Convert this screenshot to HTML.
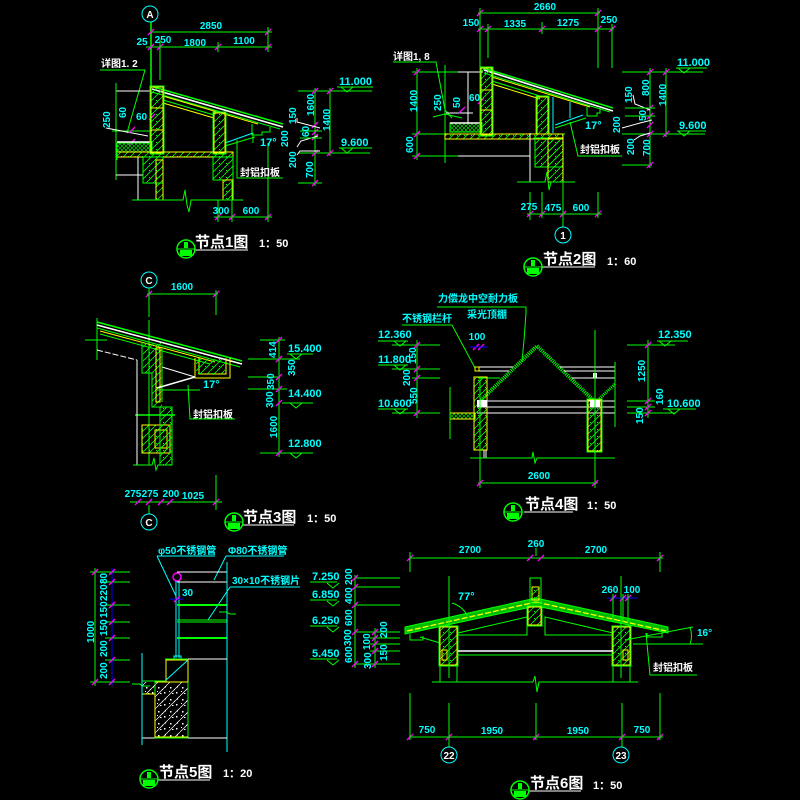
<!DOCTYPE html>
<html><head><meta charset="utf-8">
<style>
html,body{margin:0;padding:0;background:#000}
svg{display:block}
.g{stroke:#00ff00;fill:none}
.y{stroke:#ffff00;fill:none}
.w{stroke:#ffffff;fill:none}
.c{stroke:#00ffff;fill:none}
.b{stroke:#0000ff;fill:none}
text{font-family:"Liberation Sans","Noto Sans CJK SC",sans-serif;font-weight:bold}
.d{fill:#00ffff;font-size:10px}
.e{fill:#00ffff;font-size:11px}
.lw{fill:#ffffff;font-size:10px}
.lc{fill:#00ffff;font-size:10px}
.t{fill:#ffffff;font-size:15px}
.s{fill:#ffffff;font-size:11px}
</style></head><body>
<svg width="800" height="800" viewBox="0 0 800 800" xmlns="http://www.w3.org/2000/svg">
<defs>
<g id="tk"><line x1="-3" y1="3" x2="3" y2="-3" stroke="#ff00ff" stroke-width="1.3"/></g>
<g id="el"><path d="M-6,0 L0,5 L6,0" stroke="#00ff00" fill="none"/></g>
<pattern id="h" width="7" height="7" patternUnits="userSpaceOnUse">
<line x1="0" y1="7" x2="7" y2="0" stroke="#00ff00" stroke-width="0.8"/>
<rect x="2" y="2" width="1" height="1" fill="#00ff00"/>
</pattern>
<pattern id="x" width="4" height="4" patternUnits="userSpaceOnUse">
<path d="M0,4 L4,0 M0,0 L4,4" stroke="#00ff00" stroke-width="0.6"/>
</pattern>
<pattern id="cc" width="12" height="12" patternUnits="userSpaceOnUse">
<line x1="0" y1="12" x2="12" y2="0" stroke="#ffffff" stroke-width="0.7"/>
<rect x="2" y="3" width="1.5" height="1.5" fill="#fff"/>
<rect x="8" y="8" width="1.5" height="1.5" fill="#fff"/>
<rect x="9" y="2" width="1" height="1.5" fill="#fff"/>
<rect x="4" y="9" width="1.5" height="1" fill="#fff"/>
<rect x="6" y="5" width="1" height="1" fill="#fff"/>
<rect x="1" y="7" width="1" height="1" fill="#fff"/>
</pattern>
<g id="tc">
<circle r="9" stroke="#00ff00" fill="none" stroke-width="1.5"/>
<line x1="-9" y1="0" x2="9" y2="0" stroke="#00ff00"/>
<rect x="-6" y="1" width="12" height="6" fill="#00ff00"/>
<rect x="-2" y="-7" width="4" height="6" fill="#00ff00"/>
</g>
</defs>
<rect width="800" height="800" fill="#000"/>

<!-- ================= NODE 1 ================= -->
<circle cx="150" cy="14" r="8" class="c"/>
<text x="150" y="18" class="lw" text-anchor="middle" font-size="9">A</text>
<line x1="151" y1="22" x2="151" y2="88" class="g" stroke-width="1.5"/>
<line x1="150" y1="32" x2="272" y2="32" class="g"/>
<use href="#tk" x="151" y="32"/><use href="#tk" x="268" y="32"/>
<text x="211" y="29" class="d" text-anchor="middle">2850</text>
<line x1="146" y1="47" x2="272" y2="47" class="g"/>
<use href="#tk" x="151" y="47"/><use href="#tk" x="160" y="47"/><use href="#tk" x="218" y="47"/><use href="#tk" x="268" y="47"/>
<text x="142" y="45" class="d" text-anchor="middle">25</text>
<text x="163" y="43" class="d" text-anchor="middle">250</text>
<text x="195" y="46" class="d" text-anchor="middle">1800</text>
<text x="244" y="44" class="d" text-anchor="middle">1100</text>
<line x1="160" y1="40" x2="160" y2="80" class="g"/>
<line x1="218" y1="42" x2="218" y2="52" class="g"/>
<line x1="268" y1="27" x2="268" y2="52" class="g"/>
<text x="101" y="67" class="lw">详图1. 2</text>
<polyline points="100,70 145,70 127,133" class="g"/>
<line x1="116" y1="91" x2="151" y2="91" class="w"/>
<line x1="116" y1="83" x2="116" y2="180" class="g"/>
<line x1="112" y1="131" x2="152" y2="131" class="g"/>
<line x1="106" y1="128" x2="148" y2="136" class="w"/>
<text transform="translate(110,128) rotate(-90)" class="d">250</text>
<text transform="translate(126,118) rotate(-90)" class="d">60</text>
<text x="136" y="120" class="d">60</text>
<use href="#tk" x="132" y="130"/><use href="#tk" x="132" y="142"/><use href="#tk" x="152" y="117"/>
<rect x="117" y="143" width="35" height="9" fill="url(#x)" stroke="#00ff00"/>
<line x1="117" y1="142" x2="152" y2="142" class="w" stroke-width="1.5"/>
<line x1="116" y1="175" x2="143" y2="175" class="w"/>
<line x1="138" y1="157" x2="138" y2="200" class="w"/>
<!-- roof -->
<line x1="150" y1="86" x2="283" y2="124" class="g" stroke-width="1.5"/>
<line x1="152" y1="89" x2="283" y2="127" class="w" stroke-width="1.6"/>
<line x1="152" y1="92" x2="280" y2="129" class="g"/>
<line x1="163" y1="96" x2="258" y2="124" class="y"/>
<line x1="163" y1="100" x2="214" y2="115" class="g"/>
<line x1="163" y1="103" x2="214" y2="118" class="y"/>
<path d="M252,124 V135 H262 V132 H270 V127" class="g"/>
<line x1="225" y1="143" x2="253" y2="133" class="c"/>
<line x1="225" y1="146" x2="255" y2="137" class="g"/>
<line x1="225" y1="137" x2="225" y2="153" class="c"/>
<!-- walls -->
<rect x="150" y="86" width="14" height="68" class="g"/>
<rect x="151" y="87" width="12" height="66" fill="url(#h)" stroke="#ffff00"/>
<line x1="151" y1="108" x2="163" y2="108" class="y"/><line x1="151" y1="130" x2="163" y2="130" class="y"/>
<rect x="213" y="112" width="13" height="42" class="g"/>
<rect x="214" y="113" width="11" height="40" fill="url(#h)" stroke="#ffff00"/>
<rect x="117" y="152" width="116" height="5" fill="url(#h)" stroke="#ffff00"/>
<rect x="143" y="157" width="20" height="26" fill="url(#h)" stroke="#00ff00"/>
<rect x="156" y="160" width="7" height="40" fill="url(#h)" stroke="#ffff00"/>
<rect x="213" y="157" width="20" height="23" fill="url(#h)" stroke="#00ff00"/>
<rect x="223" y="180" width="10" height="20" fill="url(#h)" stroke="#ffff00"/>
<line x1="117" y1="152" x2="117" y2="160" class="g"/>
<polyline points="132,200 183,200 185,190 187,205 189,212 191,200 243,200" class="g"/>
<!-- bottom dims -->
<line x1="214" y1="217" x2="272" y2="217" class="g"/>
<use href="#tk" x="218" y="217"/><use href="#tk" x="232" y="217"/><use href="#tk" x="268" y="217"/>
<line x1="218" y1="200" x2="218" y2="222" class="g"/>
<line x1="232" y1="180" x2="232" y2="222" class="g"/>
<line x1="268" y1="143" x2="268" y2="222" class="g"/>
<text x="221" y="214" class="d" text-anchor="middle">300</text>
<text x="251" y="214" class="d" text-anchor="middle">600</text>
<!-- right elevations -->
<line x1="298" y1="91" x2="372" y2="91" class="g"/>
<text x="339" y="85" class="e">11.000</text>
<line x1="337" y1="87" x2="373" y2="87" class="g"/><use href="#el" x="347" y="87"/>
<line x1="298" y1="153" x2="370" y2="153" class="g"/>
<text x="341" y="146" class="e">9.600</text>
<line x1="339" y1="148" x2="372" y2="148" class="g"/><use href="#el" x="347" y="148"/>
<line x1="298" y1="183" x2="322" y2="183" class="g"/>
<line x1="315" y1="88" x2="315" y2="186" class="g"/>
<line x1="330" y1="88" x2="330" y2="156" class="g"/>
<use href="#tk" x="315" y="91"/><use href="#tk" x="315" y="125"/><use href="#tk" x="315" y="132"/><use href="#tk" x="315" y="137"/><use href="#tk" x="315" y="153"/><use href="#tk" x="315" y="183"/>
<use href="#tk" x="330" y="91"/><use href="#tk" x="330" y="153"/>
<polyline points="297,118 297,122 320,128" class="w"/>
<polyline points="297,147 301,141 318,136" class="w"/>
<polyline points="297,155 300,151 320,151" class="w"/>
<line x1="300" y1="131" x2="322" y2="131" class="g"/>
<line x1="300" y1="138" x2="322" y2="138" class="g"/>
<text transform="translate(314,116) rotate(-90)" class="d">1600</text>
<text transform="translate(330,131) rotate(-90)" class="d">1400</text>
<text transform="translate(296,124) rotate(-90)" class="d">150</text>
<text transform="translate(309,137) rotate(-90)" class="d">60</text>
<text transform="translate(288,147) rotate(-90)" class="d">200</text>
<text transform="translate(296,168) rotate(-90)" class="d">200</text>
<text transform="translate(313,178) rotate(-90)" class="d">700</text>
<text x="260" y="146" class="e">17°</text>
<line x1="253" y1="133" x2="253" y2="143" class="g"/>
<text x="240" y="176" class="lw">封铝扣板</text>
<polyline points="237,140 237,178 283,178" class="g"/>
<!-- title 1 -->
<text x="195" y="247" class="t">节点1图</text>
<line x1="194" y1="250" x2="248" y2="250" class="w"/>
<text x="259" y="247" class="s">1：50</text>
<use href="#tc" x="186" y="249"/>

<!-- ================= NODE 2 ================= -->
<line x1="478" y1="13" x2="600" y2="13" class="g"/>
<use href="#tk" x="480" y="13"/><use href="#tk" x="598" y="13"/>
<text x="545" y="10" class="d" text-anchor="middle">2660</text>
<line x1="478" y1="29" x2="614" y2="29" class="g"/>
<use href="#tk" x="480" y="29"/><use href="#tk" x="488" y="29"/><use href="#tk" x="542" y="29"/><use href="#tk" x="598" y="29"/><use href="#tk" x="612" y="29"/>
<text x="471" y="26" class="d" text-anchor="middle">150</text>
<text x="515" y="27" class="d" text-anchor="middle">1335</text>
<text x="568" y="26" class="d" text-anchor="middle">1275</text>
<text x="609" y="23" class="d" text-anchor="middle">250</text>
<line x1="480" y1="8" x2="480" y2="68" class="g"/>
<line x1="488" y1="24" x2="488" y2="58" class="g"/>
<line x1="542" y1="22" x2="542" y2="34" class="g"/>
<line x1="598" y1="8" x2="598" y2="68" class="g"/>
<line x1="612" y1="24" x2="612" y2="68" class="g"/>
<text x="393" y="60" class="lw">详图1, 8</text>
<polyline points="393,62 436,62 445,110 452,118" class="g"/>
<line x1="412" y1="72" x2="483" y2="72" class="g"/>
<line x1="458" y1="72" x2="483" y2="72" class="w"/>
<line x1="412" y1="134" x2="565" y2="134" class="g"/>
<line x1="412" y1="156" x2="458" y2="156" class="g"/>
<line x1="458" y1="156" x2="530" y2="156" class="w"/>
<line x1="417" y1="68" x2="417" y2="160" class="g"/>
<use href="#tk" x="417" y="72"/><use href="#tk" x="417" y="134"/><use href="#tk" x="417" y="156"/>
<text transform="translate(417,112) rotate(-90)" class="d">1400</text>
<text transform="translate(413,153) rotate(-90)" class="d">600</text>
<line x1="445" y1="65" x2="445" y2="163" class="g"/>
<line x1="468" y1="72" x2="468" y2="123" class="w"/>
<polyline points="433,117 445,114 462,118" class="g"/>
<line x1="446" y1="113" x2="473" y2="113" class="w"/>
<text transform="translate(441,111) rotate(-90)" class="d">250</text>
<text transform="translate(460,108) rotate(-90)" class="d">50</text>
<text x="469" y="101" class="d">60</text>
<use href="#tk" x="462" y="110"/><use href="#tk" x="481" y="101"/>
<rect x="450" y="123" width="32" height="9" fill="url(#x)" stroke="#00ff00"/>
<line x1="450" y1="123" x2="482" y2="123" class="w" stroke-width="1.5"/>
<!-- roof -->
<line x1="480" y1="67" x2="613" y2="108" class="g" stroke-width="1.5"/>
<line x1="484" y1="70" x2="613" y2="111" class="w" stroke-width="1.6"/>
<line x1="484" y1="73" x2="610" y2="112" class="g"/>
<line x1="492" y1="77" x2="590" y2="107" class="y"/>
<line x1="492" y1="81" x2="540" y2="96" class="g"/>
<line x1="492" y1="84" x2="540" y2="99" class="y"/>
<path d="M587,107 V116 H597 V113 H600 V108" class="g"/>
<line x1="555" y1="125" x2="583" y2="115" class="c"/>
<line x1="555" y1="128" x2="586" y2="118" class="g"/>
<line x1="553" y1="97" x2="553" y2="133" class="c"/>
<line x1="570" y1="102" x2="570" y2="118" class="c"/>
<rect x="480" y="67" width="13" height="69" class="g"/>
<rect x="481" y="68" width="11" height="67" fill="url(#h)" stroke="#ffff00"/>
<line x1="481" y1="90" x2="492" y2="90" class="y"/><line x1="481" y1="110" x2="492" y2="110" class="y"/>
<rect x="536" y="96" width="13" height="38" class="g"/>
<rect x="537" y="97" width="11" height="37" fill="url(#h)" stroke="#ffff00"/>
<rect x="445" y="134" width="118" height="5" fill="url(#h)" stroke="#ffff00"/>
<rect x="535" y="138" width="28" height="29" fill="url(#h)" stroke="#00ff00"/>
<rect x="548" y="138" width="15" height="44" fill="url(#h)" stroke="#ffff00"/>
<line x1="530" y1="133" x2="530" y2="182" class="w"/>
<polyline points="517,182 545,182 547,172 549,190 551,182 575,182" class="g"/>
<line x1="527" y1="214" x2="602" y2="214" class="g"/>
<use href="#tk" x="530" y="214"/><use href="#tk" x="542" y="214"/><use href="#tk" x="563" y="214"/><use href="#tk" x="598" y="214"/>
<line x1="530" y1="192" x2="530" y2="220" class="g"/>
<line x1="542" y1="192" x2="542" y2="218" class="g"/>
<line x1="563" y1="182" x2="563" y2="227" class="g"/>
<line x1="598" y1="192" x2="598" y2="218" class="g"/>
<text x="529" y="210" class="d" text-anchor="middle">275</text>
<text x="553" y="211" class="d" text-anchor="middle">475</text>
<text x="581" y="211" class="d" text-anchor="middle">600</text>
<circle cx="563" cy="235" r="8" class="c"/>
<text x="563" y="239" class="lw" text-anchor="middle" font-size="9">1</text>
<!-- right -->
<line x1="622" y1="72" x2="703" y2="72" class="g"/>
<text x="677" y="66" class="e">11.000</text>
<line x1="676" y1="68" x2="707" y2="68" class="g"/><use href="#el" x="684" y="68"/>
<line x1="622" y1="134" x2="705" y2="134" class="g"/>
<text x="679" y="129" class="e">9.600</text>
<line x1="677" y1="131" x2="706" y2="131" class="g"/><use href="#el" x="684" y="131"/>
<line x1="622" y1="165" x2="652" y2="165" class="g"/>
<line x1="650" y1="68" x2="650" y2="168" class="g"/>
<line x1="666" y1="68" x2="666" y2="137" class="g"/>
<use href="#tk" x="650" y="72"/><use href="#tk" x="650" y="108"/><use href="#tk" x="650" y="116"/><use href="#tk" x="650" y="125"/><use href="#tk" x="650" y="134"/><use href="#tk" x="650" y="165"/>
<use href="#tk" x="666" y="72"/><use href="#tk" x="666" y="134"/>
<polyline points="633,95 635,104 650,110" class="w"/>
<polyline points="622,128 640,123 652,120" class="w"/>
<polyline points="634,140 640,136 650,133" class="w"/>
<line x1="625" y1="108" x2="655" y2="108" class="g"/>
<line x1="625" y1="116" x2="655" y2="116" class="g"/>
<text transform="translate(649,96) rotate(-90)" class="d">800</text>
<text transform="translate(666,106) rotate(-90)" class="d">1400</text>
<text transform="translate(632,103) rotate(-90)" class="d">150</text>
<text transform="translate(646,121) rotate(-90)" class="d">50</text>
<text transform="translate(620,133) rotate(-90)" class="d">200</text>
<text transform="translate(634,155) rotate(-90)" class="d">200</text>
<text transform="translate(650,156) rotate(-90)" class="d">700</text>
<text x="585" y="129" class="e">17°</text>
<text x="580" y="153" class="lw">封铝扣板</text>
<polyline points="570,122 578,156 622,156" class="g"/>
<text x="543" y="264" class="t">节点2图</text>
<line x1="542" y1="267" x2="595" y2="267" class="w"/>
<text x="607" y="265" class="s">1：60</text>
<use href="#tc" x="533" y="267"/>

<!-- ================= NODE 3 ================= -->
<circle cx="149" cy="280" r="8" class="c"/>
<text x="149" y="284" class="lw" text-anchor="middle" font-size="9">C</text>
<line x1="147" y1="294" x2="218" y2="294" class="g"/>
<use href="#tk" x="149" y="294"/><use href="#tk" x="216" y="294"/>
<text x="182" y="290" class="d" text-anchor="middle">1600</text>
<line x1="149" y1="288" x2="149" y2="317" class="g"/>
<line x1="149" y1="320" x2="149" y2="465" class="g"/>
<line x1="216" y1="290" x2="216" y2="315" class="g"/>
<line x1="97" y1="318" x2="97" y2="360" class="g"/>
<line x1="85" y1="340" x2="107" y2="340" class="g"/>
<line x1="97" y1="322" x2="242" y2="361" class="g" stroke-width="1.5"/>
<line x1="97" y1="325" x2="242" y2="364" class="w" stroke-width="1.6"/>
<line x1="97" y1="328" x2="240" y2="367" class="g"/>
<line x1="100" y1="331" x2="215" y2="362" class="y"/>
<line x1="100" y1="334" x2="210" y2="364" class="g"/>
<line x1="97" y1="350" x2="137" y2="360" class="w" stroke-dasharray="6,2"/>
<line x1="162" y1="367" x2="195" y2="377" class="w"/>
<path d="M142,342 V373 H152 V407 H172 V465" class="g"/>
<line x1="162" y1="348" x2="162" y2="402" class="g"/>
<rect x="143" y="343" width="19" height="30" fill="url(#h)" stroke="none"/>
<rect x="152" y="373" width="10" height="34" fill="url(#h)" stroke="none"/>
<rect x="156" y="348" width="4" height="54" class="y"/>
<rect x="142" y="425" width="28" height="28" fill="url(#h)" stroke="#ffff00"/>
<rect x="155" y="430" width="12" height="18" class="y" fill="#000"/>
<rect x="160" y="407" width="12" height="58" fill="url(#h)" stroke="#00ff00"/>
<line x1="135" y1="415" x2="175" y2="415" class="g" stroke-width="1.5"/>
<line x1="137" y1="360" x2="137" y2="465" class="w"/>
<path d="M195,358 V378 H230 V358 M199,358 V374 H226 V358" class="y"/>
<rect x="196" y="359" width="29" height="15" fill="url(#h)"/>
<line x1="157" y1="388" x2="195" y2="377" class="w" stroke-width="1.5"/>
<line x1="157" y1="390" x2="200" y2="390" class="g"/>
<polyline points="133,465 152,465 154,458 156,470 158,465 172,465" class="g"/>
<text x="203" y="388" class="e">17°</text>
<text x="193" y="418" class="lw">封铝扣板</text>
<polyline points="188,385 190,419 235,419" class="g"/>
<line x1="260" y1="340" x2="285" y2="340" class="g"/>
<line x1="248" y1="359" x2="300" y2="359" class="g"/>
<line x1="248" y1="377" x2="280" y2="377" class="g"/>
<line x1="248" y1="389" x2="287" y2="389" class="g"/>
<line x1="282" y1="403" x2="313" y2="403" class="g"/>
<line x1="260" y1="453" x2="313" y2="453" class="g"/>
<line x1="287" y1="354" x2="313" y2="354" class="g"/>
<line x1="279" y1="337" x2="279" y2="457" class="g"/>
<use href="#tk" x="279" y="340"/><use href="#tk" x="279" y="359"/><use href="#tk" x="279" y="377"/><use href="#tk" x="279" y="389"/><use href="#tk" x="279" y="403"/><use href="#tk" x="279" y="453"/>
<text x="288" y="352" class="e">15.400</text><use href="#el" x="296" y="354"/>
<text x="288" y="397" class="e">14.400</text><use href="#el" x="296" y="403"/>
<text x="288" y="447" class="e">12.800</text><use href="#el" x="296" y="453"/>
<text transform="translate(276,358) rotate(-90)" class="d">414</text>
<text transform="translate(295,376) rotate(-90)" class="d">350</text>
<text transform="translate(274,390) rotate(-90)" class="d">350</text>
<text transform="translate(273,408) rotate(-90)" class="d">300</text>
<text transform="translate(277,438) rotate(-90)" class="d">1600</text>
<line x1="130" y1="502" x2="222" y2="502" class="g"/>
<use href="#tk" x="138" y="502"/><use href="#tk" x="149" y="502"/><use href="#tk" x="161" y="502"/><use href="#tk" x="170" y="502"/><use href="#tk" x="216" y="502"/>
<line x1="216" y1="475" x2="216" y2="510" class="g"/>
<line x1="149" y1="505" x2="149" y2="514" class="g"/>
<text x="133" y="497" class="d" text-anchor="middle">275</text>
<text x="150" y="497" class="d" text-anchor="middle">275</text>
<text x="171" y="497" class="d" text-anchor="middle">200</text>
<text x="193" y="499" class="d" text-anchor="middle">1025</text>
<circle cx="149" cy="522" r="8" class="c"/>
<text x="149" y="526" class="lw" text-anchor="middle" font-size="9">C</text>
<text x="243" y="522" class="t">节点3图</text>
<line x1="242" y1="525" x2="294" y2="525" class="w"/>
<text x="307" y="522" class="s">1：50</text>
<use href="#tc" x="234" y="522"/>

<!-- ================= NODE 4 ================= -->
<text x="438" y="302" class="lc">力偿龙中空耐力板</text>
<line x1="437" y1="307" x2="526" y2="307" class="g"/>
<polyline points="526,307 526,313 524,340 522,362" class="g"/>
<text x="467" y="318" class="lc">采光顶棚</text>
<text x="402" y="322" class="lc">不锈钢栏杆</text>
<line x1="402" y1="325" x2="452" y2="325" class="g"/>
<line x1="452" y1="325" x2="475" y2="368" class="g"/>
<text x="378" y="338" class="e">12.360</text>
<line x1="378" y1="341" x2="408" y2="341" class="g"/><use href="#el" x="400" y="341"/>
<line x1="392" y1="345" x2="440" y2="345" class="g"/>
<text x="378" y="363" class="e">11.800</text>
<line x1="378" y1="365" x2="408" y2="365" class="g"/><use href="#el" x="400" y="365"/>
<line x1="392" y1="369" x2="440" y2="369" class="g"/>
<line x1="412" y1="378" x2="440" y2="378" class="g"/>
<text x="378" y="407" class="e">10.600</text>
<line x1="378" y1="409" x2="408" y2="409" class="g"/><use href="#el" x="400" y="409"/>
<line x1="392" y1="413" x2="440" y2="413" class="g"/>
<line x1="417" y1="340" x2="417" y2="418" class="g"/>
<use href="#tk" x="417" y="345"/><use href="#tk" x="417" y="369"/><use href="#tk" x="417" y="378"/><use href="#tk" x="417" y="413"/>
<text transform="translate(416,364) rotate(-90)" class="d">150</text>
<text transform="translate(410,386) rotate(-90)" class="d">200</text>
<text transform="translate(417,404) rotate(-90)" class="d">550</text>
<text x="477" y="340" class="d" text-anchor="middle">100</text>
<use href="#tk" x="476" y="347"/><use href="#tk" x="481" y="347"/>
<line x1="470" y1="347" x2="488" y2="347" class="b"/>
<!-- gable -->
<line x1="481" y1="400" x2="537" y2="346" stroke="#00ff00" stroke-width="4" stroke-dasharray="1,1"/>
<line x1="537" y1="346" x2="593" y2="400" stroke="#00ff00" stroke-width="4" stroke-dasharray="1,1"/>
<line x1="598" y1="400" x2="615" y2="384" stroke="#00ff00" stroke-width="3" stroke-dasharray="1,1"/>
<line x1="478" y1="367" x2="513" y2="367" class="w"/>
<line x1="478" y1="371" x2="509" y2="371" class="w"/>
<line x1="560" y1="367" x2="615" y2="367" class="w"/>
<line x1="564" y1="371" x2="615" y2="371" class="w"/>
<line x1="572" y1="378" x2="615" y2="378" class="w"/>
<line x1="478" y1="378" x2="500" y2="378" class="g"/>
<rect x="593" y="373" width="4" height="5" fill="#fff"/>
<line x1="477" y1="401" x2="615" y2="401" class="w"/>
<line x1="477" y1="407" x2="615" y2="407" class="w"/>
<line x1="477" y1="413" x2="615" y2="413" class="w"/>
<rect x="474" y="377" width="13" height="73" fill="url(#h)" stroke="#ffff00"/>
<rect x="475" y="367" width="4" height="4" class="y"/>
<rect x="477" y="400" width="10" height="7" fill="#fff"/>
<rect x="588" y="400" width="13" height="51" fill="url(#h)" stroke="#ffff00"/>
<rect x="587" y="399" width="15" height="53" class="g"/>
<rect x="590" y="400" width="10" height="7" fill="#fff"/>
<rect x="450" y="413" width="25" height="6" fill="url(#x)" stroke="#ffff00"/>
<line x1="450" y1="387" x2="450" y2="439" class="g"/>
<line x1="480" y1="377" x2="480" y2="488" class="g"/>
<line x1="595" y1="330" x2="595" y2="488" class="g"/>
<line x1="615" y1="362" x2="615" y2="427" class="g"/>
<line x1="484" y1="450" x2="484" y2="458" class="w"/>
<line x1="486" y1="450" x2="486" y2="458" class="w"/>
<polyline points="470,458 532,458 533,452 535,463 537,458 615,458" class="g"/>
<line x1="478" y1="483" x2="598" y2="483" class="g"/>
<use href="#tk" x="480" y="483"/><use href="#tk" x="595" y="483"/>
<text x="539" y="479" class="d" text-anchor="middle">2600</text>
<text x="658" y="338" class="e">12.350</text>
<line x1="657" y1="341" x2="688" y2="341" class="g"/><use href="#el" x="665" y="341"/>
<line x1="627" y1="345" x2="675" y2="345" class="g"/>
<text x="667" y="407" class="e">10.600</text>
<line x1="663" y1="409" x2="696" y2="409" class="g"/><use href="#el" x="674" y="409"/>
<line x1="627" y1="413" x2="675" y2="413" class="g"/>
<line x1="627" y1="401" x2="655" y2="401" class="g"/>
<line x1="627" y1="407" x2="655" y2="407" class="g"/>
<line x1="648" y1="340" x2="648" y2="418" class="g"/>
<use href="#tk" x="648" y="345"/><use href="#tk" x="648" y="401"/><use href="#tk" x="648" y="407"/><use href="#tk" x="648" y="413"/>
<text transform="translate(645,382) rotate(-90)" class="d">1250</text>
<text transform="translate(663,405) rotate(-90)" class="d">160</text>
<text transform="translate(643,424) rotate(-90)" class="d">150</text>
<text x="525" y="509" class="t">节点4图</text>
<line x1="524" y1="512" x2="573" y2="512" class="w"/>
<text x="587" y="509" class="s">1：50</text>
<use href="#tc" x="513" y="512"/>

<!-- ================= NODE 5 ================= -->
<text x="158" y="554" class="lc">φ50不锈钢管</text>
<line x1="157" y1="556" x2="215" y2="556" class="c"/>
<line x1="157" y1="556" x2="176" y2="596" class="c"/>
<text x="228" y="554" class="lc">Φ80不锈钢管</text>
<line x1="226" y1="556" x2="284" y2="556" class="c"/>
<line x1="226" y1="556" x2="214" y2="580" class="c"/>
<text x="232" y="584" class="lc">30×10不锈钢片</text>
<line x1="230" y1="587" x2="300" y2="587" class="c"/>
<line x1="230" y1="587" x2="208" y2="620" class="c"/>
<line x1="95" y1="568" x2="95" y2="686" class="g"/>
<line x1="112" y1="568" x2="112" y2="686" class="b"/>
<line x1="90" y1="572" x2="130" y2="572" class="g"/>
<line x1="100" y1="582" x2="130" y2="582" class="g"/>
<line x1="105" y1="605" x2="130" y2="605" class="g"/>
<line x1="105" y1="622" x2="130" y2="622" class="g"/>
<line x1="105" y1="638" x2="130" y2="638" class="g"/>
<line x1="105" y1="660" x2="130" y2="660" class="g"/>
<line x1="90" y1="682" x2="130" y2="682" class="g"/>
<use href="#tk" x="95" y="572"/><use href="#tk" x="95" y="682"/>
<use href="#tk" x="112" y="572"/><use href="#tk" x="112" y="582"/><use href="#tk" x="112" y="605"/><use href="#tk" x="112" y="622"/><use href="#tk" x="112" y="638"/><use href="#tk" x="112" y="660"/><use href="#tk" x="112" y="682"/>
<text transform="translate(94,643) rotate(-90)" class="d">1000</text>
<text transform="translate(107,584) rotate(-90)" class="d">80</text>
<text transform="translate(107,601) rotate(-90)" class="d">220</text>
<text transform="translate(107,618) rotate(-90)" class="d">150</text>
<text transform="translate(107,636) rotate(-90)" class="d">150</text>
<text transform="translate(107,657) rotate(-90)" class="d">200</text>
<text transform="translate(107,679) rotate(-90)" class="d">200</text>
<circle cx="177" cy="577" r="4" stroke="#ff00ff" fill="none" stroke-width="1.5"/>
<line x1="176" y1="581" x2="176" y2="658" class="c"/>
<line x1="179" y1="581" x2="179" y2="658" class="c"/>
<rect x="174" y="656" width="7" height="4" class="c"/>
<line x1="177" y1="572" x2="227" y2="572" class="w"/>
<line x1="177" y1="582" x2="227" y2="582" class="w"/>
<line x1="177" y1="605" x2="227" y2="605" class="g" stroke-width="2"/>
<line x1="177" y1="620" x2="227" y2="620" class="g"/>
<line x1="177" y1="622" x2="227" y2="622" class="g"/>
<line x1="177" y1="638" x2="227" y2="638" class="g" stroke-width="2"/>
<line x1="170" y1="599" x2="184" y2="599" class="b"/>
<use href="#tk" x="177" y="599"/>
<text x="182" y="596" class="d">30</text>
<line x1="227" y1="562" x2="227" y2="752" class="c"/>
<path d="M219,612 L226,612 L230,614 L236,614" class="g"/>
<rect x="166" y="660" width="22" height="22" class="y"/>
<line x1="165" y1="659" x2="189" y2="659" class="g"/>
<line x1="166" y1="680" x2="188" y2="660" class="c"/>
<line x1="188" y1="659" x2="227" y2="659" class="w"/>
<rect x="155" y="682" width="33" height="56" fill="url(#cc)" stroke="#00ff00"/>
<line x1="155" y1="682" x2="188" y2="682" class="y"/>
<line x1="155" y1="737" x2="188" y2="737" class="y"/>
<rect x="142" y="682" width="13" height="12" fill="url(#cc)"/>
<path d="M142,694 H155 V737" class="y"/>
<line x1="142" y1="681" x2="166" y2="681" class="g"/>
<path d="M132,684 L140,684 L142,686 L150,686" class="g"/>
<line x1="188" y1="738" x2="227" y2="738" class="w"/>
<line x1="142" y1="738" x2="155" y2="738" class="w"/>
<line x1="142" y1="653" x2="142" y2="745" class="c"/>
<text x="159" y="777" class="t">节点5图</text>
<line x1="158" y1="780" x2="210" y2="780" class="w"/>
<text x="223" y="777" class="s">1：20</text>
<use href="#tc" x="149" y="779"/>

<!-- ================= NODE 6 ================= -->
<line x1="410" y1="558" x2="663" y2="558" class="g"/>
<use href="#tk" x="410" y="558"/><use href="#tk" x="530" y="558"/><use href="#tk" x="541" y="558"/><use href="#tk" x="660" y="558"/>
<text x="470" y="553" class="d" text-anchor="middle">2700</text>
<text x="536" y="547" class="d" text-anchor="middle">260</text>
<text x="596" y="553" class="d" text-anchor="middle">2700</text>
<line x1="410" y1="552" x2="410" y2="572" class="g"/>
<line x1="660" y1="552" x2="660" y2="572" class="g"/>
<line x1="536" y1="548" x2="536" y2="556" class="g"/>
<text x="312" y="580" class="e">7.250</text>
<line x1="310" y1="582" x2="337" y2="582" class="g"/><use href="#el" x="333" y="583"/>
<text x="312" y="598" class="e">6.850</text>
<line x1="310" y1="600" x2="337" y2="600" class="g"/><use href="#el" x="333" y="601"/>
<text x="312" y="624" class="e">6.250</text>
<line x1="310" y1="626" x2="337" y2="626" class="g"/><use href="#el" x="333" y="627"/>
<text x="312" y="657" class="e">5.450</text>
<line x1="310" y1="659" x2="337" y2="659" class="g"/><use href="#el" x="333" y="660"/>
<line x1="355" y1="578" x2="400" y2="578" class="g"/>
<line x1="355" y1="587" x2="400" y2="587" class="g"/>
<line x1="355" y1="605" x2="400" y2="605" class="g"/>
<line x1="355" y1="632" x2="400" y2="632" class="g"/>
<line x1="370" y1="638" x2="400" y2="638" class="g"/>
<line x1="370" y1="644" x2="400" y2="644" class="g"/>
<line x1="370" y1="651" x2="400" y2="651" class="g"/>
<line x1="355" y1="664" x2="400" y2="664" class="g"/>
<line x1="355" y1="575" x2="355" y2="668" class="g"/>
<line x1="375" y1="628" x2="375" y2="668" class="g"/>
<use href="#tk" x="355" y="578"/><use href="#tk" x="355" y="587"/><use href="#tk" x="355" y="605"/><use href="#tk" x="355" y="632"/><use href="#tk" x="355" y="664"/>
<use href="#tk" x="375" y="632"/><use href="#tk" x="375" y="638"/><use href="#tk" x="375" y="644"/><use href="#tk" x="375" y="651"/><use href="#tk" x="375" y="664"/>
<text transform="translate(352,585) rotate(-90)" class="d">200</text>
<text transform="translate(352,604) rotate(-90)" class="d">400</text>
<text transform="translate(352,626) rotate(-90)" class="d">600</text>
<text transform="translate(351,646) rotate(-90)" class="d">300</text>
<text transform="translate(352,663) rotate(-90)" class="d">600</text>
<text transform="translate(387,638) rotate(-90)" class="d">200</text>
<text transform="translate(370,650) rotate(-90)" class="d">100</text>
<text transform="translate(371,669) rotate(-90)" class="d">300</text>
<text transform="translate(387,661) rotate(-90)" class="d">150</text>
<!-- roof 6 -->
<polygon points="405,627 536,598 668,627 668,633 536,606 405,634" fill="#00bb00" stroke="#00ff00"/>
<line x1="407" y1="631" x2="536" y2="602" stroke="#ffff00" stroke-width="1.3" stroke-dasharray="6,2"/>
<line x1="536" y1="602" x2="666" y2="631" stroke="#ffff00" stroke-width="1.3" stroke-dasharray="6,2"/>
<polyline points="458,633 527,617 527,635 458,635" class="g"/>
<polyline points="613,633 545,617 545,635 613,635" class="g"/>
<path d="M410,634 V640 H423 V636" class="g"/>
<path d="M647,633 V637 H662 V633" class="g"/>
<line x1="420" y1="637" x2="440" y2="643" class="g"/>
<rect x="530" y="578" width="11" height="25" class="g"/>
<rect x="532" y="587" width="7" height="13" fill="url(#h)" stroke="#ffff00"/>
<rect x="528" y="607" width="13" height="18" fill="url(#h)" stroke="#ffff00"/>
<rect x="527" y="606" width="15" height="20" class="g"/>
<rect x="440" y="627" width="17" height="38" fill="url(#h)" stroke="#ffff00"/>
<rect x="442" y="650" width="5" height="10" class="y"/>
<rect x="439" y="626" width="19" height="40" class="g"/>
<rect x="613" y="627" width="17" height="38" fill="url(#h)" stroke="#ffff00"/>
<rect x="623" y="650" width="5" height="10" class="y"/>
<rect x="612" y="626" width="19" height="40" class="g"/>
<line x1="458" y1="651" x2="613" y2="651" class="w" stroke-width="1.5"/>
<line x1="458" y1="655" x2="613" y2="655" class="g"/>
<line x1="440" y1="665" x2="440" y2="682" class="g"/>
<line x1="457" y1="665" x2="457" y2="682" class="g"/>
<line x1="613" y1="665" x2="613" y2="682" class="g"/>
<line x1="630" y1="665" x2="630" y2="682" class="g"/>
<line x1="449" y1="576" x2="449" y2="678" class="g"/>
<line x1="621" y1="576" x2="621" y2="678" class="g"/>
<polyline points="432,682 533,682 535,676 537,692 539,682 638,682" class="g"/>
<path d="M452,603 Q462,606 467,615" class="g"/>
<text x="458" y="600" class="e">77°</text>
<line x1="607" y1="598" x2="637" y2="598" class="b"/>
<use href="#tk" x="613" y="598"/><use href="#tk" x="623" y="598"/><use href="#tk" x="628" y="598"/>
<line x1="613" y1="594" x2="613" y2="622" class="g"/>
<line x1="623" y1="594" x2="623" y2="622" class="g"/>
<line x1="628" y1="594" x2="628" y2="622" class="g"/>
<text x="610" y="593" class="d" text-anchor="middle">260</text>
<text x="632" y="593" class="d" text-anchor="middle">100</text>
<line x1="625" y1="640" x2="693" y2="627" class="g"/>
<line x1="633" y1="644" x2="703" y2="644" class="g"/>
<path d="M690,627 Q693,636 690,644" class="g"/>
<text x="697" y="636" class="d">16°</text>
<text x="653" y="671" class="lw">封铝扣板</text>
<polyline points="646,633 650,675 697,675" class="g"/>
<line x1="410" y1="737" x2="663" y2="737" class="g"/>
<use href="#tk" x="410" y="737"/><use href="#tk" x="449" y="737"/><use href="#tk" x="536" y="737"/><use href="#tk" x="622" y="737"/><use href="#tk" x="660" y="737"/>
<line x1="410" y1="693" x2="410" y2="740" class="g"/>
<line x1="449" y1="703" x2="449" y2="747" class="g"/>
<line x1="536" y1="703" x2="536" y2="740" class="g"/>
<line x1="622" y1="703" x2="622" y2="747" class="g"/>
<line x1="660" y1="693" x2="660" y2="740" class="g"/>
<text x="427" y="733" class="d" text-anchor="middle">750</text>
<text x="492" y="734" class="d" text-anchor="middle">1950</text>
<text x="578" y="734" class="d" text-anchor="middle">1950</text>
<text x="642" y="733" class="d" text-anchor="middle">750</text>
<circle cx="449" cy="755" r="8" class="c"/>
<text x="449" y="759" class="lw" text-anchor="middle" font-size="9">22</text>
<circle cx="621" cy="755" r="8" class="c"/>
<text x="621" y="759" class="lw" text-anchor="middle" font-size="9">23</text>
<text x="530" y="788" class="t">节点6图</text>
<line x1="529" y1="791" x2="581" y2="791" class="w"/>
<text x="593" y="789" class="s">1：50</text>
<use href="#tc" x="520" y="790"/>
</svg>
</body></html>
